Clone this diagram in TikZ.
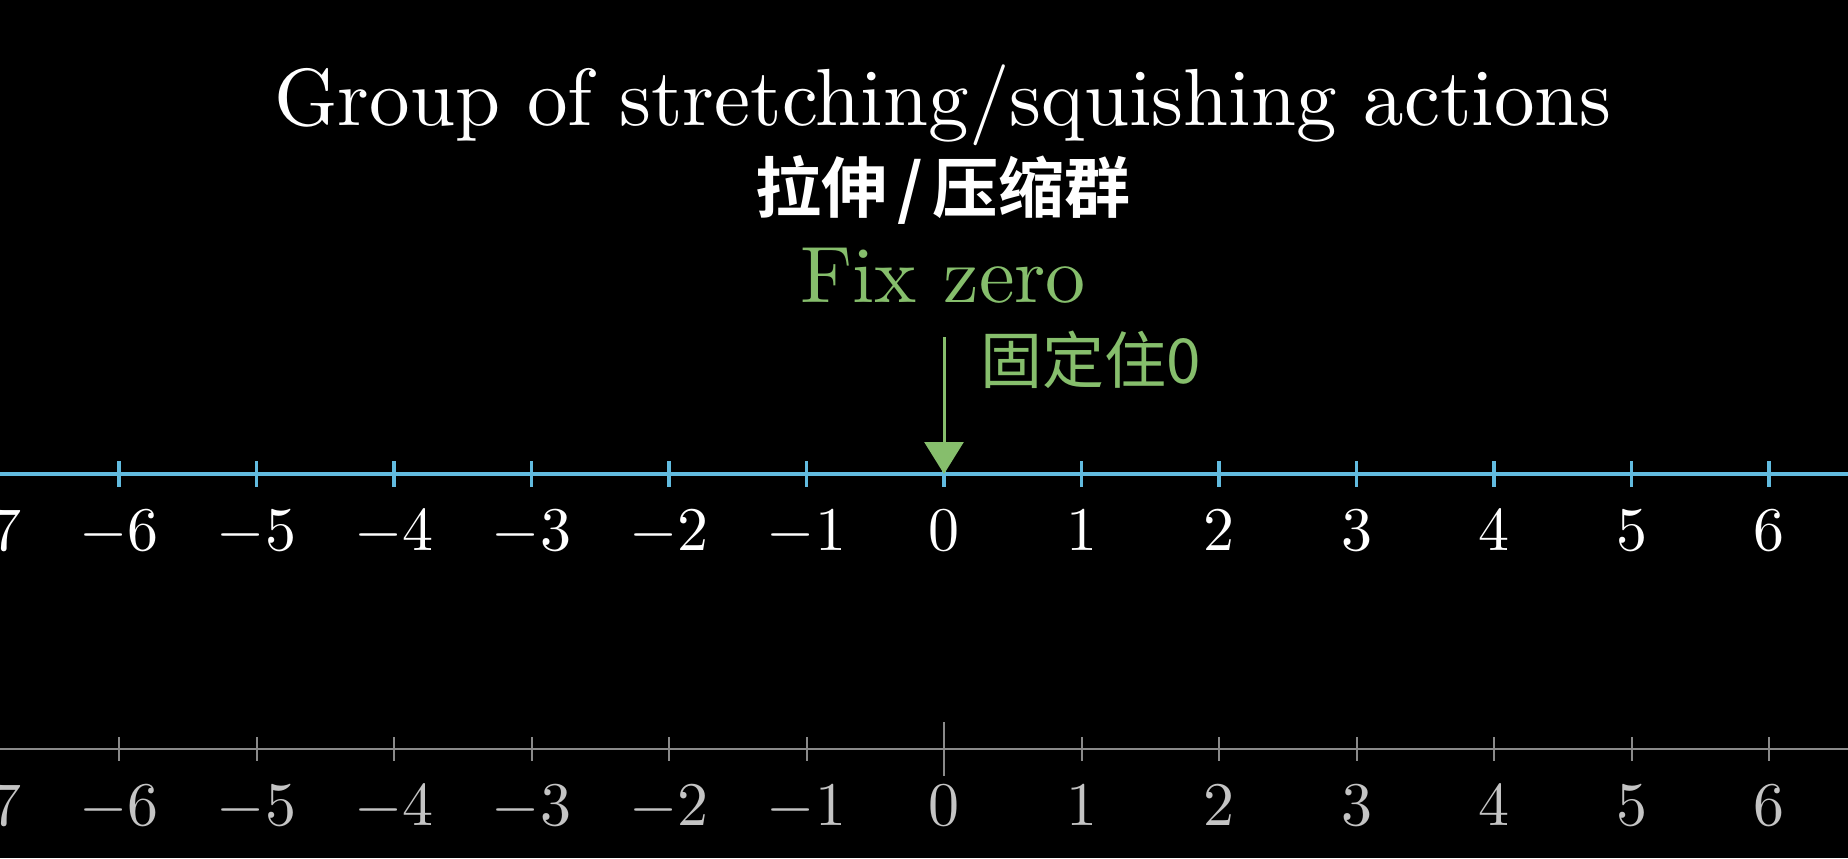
\documentclass[tikz,border=0pt]{standalone}
\usepackage{fontspec}
\newfontfamily\cjk[BoldFont={Noto Sans CJK SC Bold}]{Noto Sans CJK SC}
\usetikzlibrary{arrows.meta}
\definecolor{axisblue}{HTML}{62BBDF}
\definecolor{fixgreen}{HTML}{86BE6C}
\definecolor{axisgrey}{HTML}{8A8A8A}
\definecolor{labelgrey}{HTML}{C4C4C4}
\begin{document}
\begin{tikzpicture}[x=0.5pt,y=-0.5pt,
  titletext/.style={text=white, scale=4.05, inner sep=0, anchor=base},
  fixtext/.style={text=fixgreen, scale=4.0, inner sep=0, anchor=base},
  cjktitle/.style={text=white, inner sep=0, anchor=base, font=\cjk\bfseries\fontsize{33}{40}\selectfont},
  cjkfix/.style={text=fixgreen, inner sep=0, anchor=base west, font=\cjk\fontsize{31}{38}\selectfont},
  bluenum/.style={text=white, scale=3.1, inner sep=0, anchor=base},
  greynum/.style={text=labelgrey, scale=3.1, inner sep=0, anchor=base},
  blueaxis/.style={draw=axisblue, line width=1.65pt},
  bluetick/.style={draw=axisblue, line width=1.65pt},
  greyaxis/.style={draw=axisgrey, line width=1pt},
  greytick/.style={draw=axisgrey, line width=1pt},
  fixarrow/.style={draw=fixgreen, line width=1.5pt, -{Triangle[length=16pt,width=19.5pt]}, fixgreen}
]
\fill[black] (0,0) rectangle (1848,858);
\useasboundingbox (0,0) rectangle (1848,858);
\clip (0,0) rectangle (1848,858);

% titles
\node[titletext] (title) at (943,125) {Group of stretching/squishing actions};
\node[cjktitle] (cjktitle) at (943,212) {拉伸\kern0.15em/\kern0.15em 压缩群};
\node[fixtext] (fix) at (943,302) {Fix zero};
\node[cjkfix] (fixcjk) at (980,383) {固定住0};

% upper number line
\coordinate (ua) at (0,474);
\coordinate (ub) at (1848,474);
\draw[blueaxis] (ua) -- (ub);
\foreach \k in {-7,...,7} {
  \coordinate (ut\k) at (944+137.5*\k,461);
  \draw[bluetick] (ut\k) -- ++(0,26);
}
\foreach \k in {-7,...,6} {
  \node[bluenum] (ul\k) at (944+137.5*\k,550) {$\k$};
}

% arrow to zero
\coordinate (fixtop) at (944,337);
\coordinate (zero) at (944,474);
\draw[fixarrow] (fixtop) -- (zero);

% lower number line
\coordinate (la) at (0,749);
\coordinate (lb) at (1848,749);
\draw[greyaxis] (la) -- (lb);
\foreach \k in {-7,...,7} {
  \coordinate (lt\k) at (944+137.5*\k,737);
  \draw[greytick] (lt\k) -- ++(0,24);
}
\foreach \k in {-7,...,6} {
  \node[greynum] (ll\k) at (944+137.5*\k,825) {$\k$};
}
\coordinate (lz) at (944,722);
\draw[greytick] (lz) -- ++(0,54);
\end{tikzpicture}
\end{document}
